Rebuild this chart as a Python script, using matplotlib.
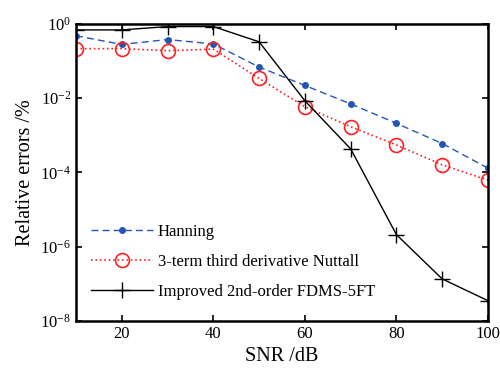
import numpy as np
import matplotlib
matplotlib.use('Agg')
import matplotlib.pyplot as plt

plt.rcParams['font.family'] = ['Liberation Serif', 'DejaVu Serif']
plt.rcParams['mathtext.fontset'] = 'custom'
plt.rcParams['mathtext.rm'] = 'Liberation Serif'

# ── data ────────────────────────────────────────────────────────────────────
snr = [10, 20, 30, 40, 50, 60, 70, 80, 90, 100]
hanning = [0.48, 0.28, 0.38, 0.29, 0.069, 0.022, 7e-3, 2.1e-3, 6e-4, 1.3e-4]
nuttall = [0.216, 0.216, 0.19, 0.21, 0.034, 5.9e-3, 1.7e-3, 5.5e-4, 1.6e-4, 6.2e-5]
improved = [0.69, 0.69, 0.85, 0.85, 0.33, 8.5e-3, 4.3e-4, 2.1e-6, 1.35e-7, 3.5e-8]

labels = ['Hanning', '3-term third derivative Nuttall',
          'Improved 2nd-order FDMS-5FT']

# ── plot ────────────────────────────────────────────────────────────────────
fig = plt.figure(figsize=(5, 3.74), dpi=100)
ax = fig.add_axes([0.152, 0.142, 0.824, 0.794])

ax.semilogy(snr, hanning, color='#2455b5', lw=1.0, dashes=(5, 3),
            marker='o', ms=4, mfc='#2455b5', mec='#2455b5', label=labels[0])
ax.semilogy(snr, nuttall, ':', color='#ff2020', lw=1.2,
            marker='o', ms=10, mfc='none', mec='#ff2020', mew=1.2, label=labels[1])
ax.semilogy(snr, improved, '-', color='black', lw=1.0,
            marker='+', ms=12, mew=1.0, label=labels[2])

ax.set_xlim(10, 100)
ax.set_ylim(1e-8, 1e0)
ax.set_xticks([20, 40, 60, 80, 100])
ax.set_yticks([1e0, 1e-2, 1e-4, 1e-6, 1e-8])
ax.minorticks_off()
ax.tick_params(direction='in', top=True, right=True, labelsize=12,
               length=4, width=1.2)
for s in ax.spines.values():
    s.set_linewidth(1.8)

ax.set_xlabel('SNR /dB', fontsize=14.5)
ax.set_ylabel('Relative errors /%', fontsize=14.5)

ax.legend(loc='lower left', frameon=False, fontsize=12, handlelength=3.7,
          handletextpad=0.3, labelspacing=0.85, bbox_to_anchor=(0.0, 0.02))

fig.savefig('out.png', dpi=100)
